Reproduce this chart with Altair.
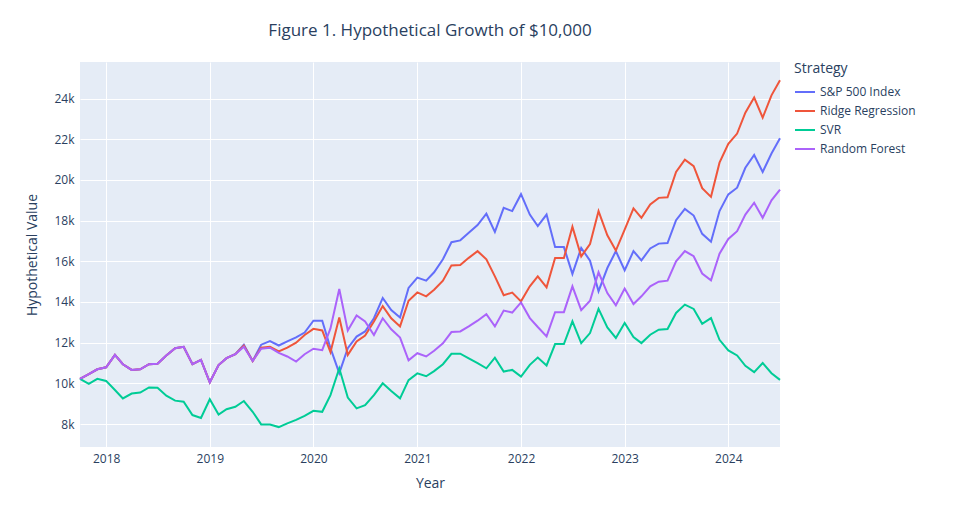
import pandas as pd
import altair as alt

months = pd.date_range("2017-10-01", "2024-07-01", freq="MS").strftime("%Y-%m-%d").tolist()

# values in thousands of dollars
sp500 = [10.22, 10.45, 10.69, 10.79, 11.4, 10.94, 10.66, 10.69, 10.94, 10.96, 11.37, 11.73, 11.8,
         10.94, 11.15, 10.05, 10.9, 11.24, 11.43, 11.9, 11.1, 11.9, 12.08, 11.86, 12.06, 12.26,
         12.5, 13.08, 13.08, 11.73, 10.5, 11.73, 12.3, 12.55, 13.2, 14.2, 13.6, 13.24, 14.69,
         15.2, 15.05, 15.46, 16.1, 16.94, 17.03, 17.4, 17.78, 18.34, 17.45, 18.63, 18.47, 19.3,
         18.3, 17.73, 18.3, 16.7, 16.7, 15.38, 16.66, 16.03, 14.53, 15.67, 16.5, 15.56, 16.5,
         16.05, 16.63, 16.87, 16.9, 18.02, 18.58, 18.25, 17.35, 16.96, 18.47, 19.29, 19.62,
         20.6, 21.23, 20.39, 21.3, 22.05]
ridge = [10.22, 10.45, 10.69, 10.79, 11.4, 10.94, 10.66, 10.69, 10.94, 10.96, 11.37, 11.73, 11.8,
         10.94, 11.15, 10.05, 10.9, 11.24, 11.43, 11.85, 11.1, 11.75, 11.8, 11.57, 11.76, 12.0,
         12.38, 12.68, 12.6, 11.53, 13.24, 11.4, 12.06, 12.35, 13.04, 13.8, 13.2, 12.8, 14.06,
         14.47, 14.28, 14.6, 15.05, 15.8, 15.82, 16.17, 16.5, 16.1, 15.26, 14.33, 14.46, 14.03,
         14.77, 15.26, 14.72, 16.16, 16.16, 17.7, 16.24, 16.85, 18.47, 17.28, 16.53, 17.56, 18.6,
         18.14, 18.8, 19.12, 19.15, 20.39, 21.0, 20.68, 19.6, 19.17, 20.85, 21.78, 22.28, 23.31,
         24.05, 23.06, 24.16, 24.9]
svr = [10.22, 9.97, 10.22, 10.12, 9.67, 9.26, 9.5, 9.55, 9.8, 9.78, 9.39, 9.15, 9.1, 8.44, 8.3,
       9.22, 8.47, 8.73, 8.85, 9.13, 8.6, 7.98, 7.98, 7.85, 8.03, 8.2, 8.4, 8.65, 8.6, 9.42,
       10.74, 9.3, 8.77, 8.93, 9.42, 10.0, 9.62, 9.26, 10.16, 10.49, 10.35, 10.6, 10.94, 11.45,
       11.46, 11.23, 10.99, 10.74, 11.26, 10.58, 10.66, 10.33, 10.91, 11.27, 10.88, 11.93, 11.93,
       13.05, 11.98, 12.47, 13.66, 12.75, 12.23, 12.97, 12.28, 11.98, 12.39, 12.64, 12.67, 13.46,
       13.87, 13.66, 12.93, 13.21, 12.14, 11.62, 11.37, 10.86, 10.55, 11.0, 10.5, 10.17]
forest = [10.22, 10.45, 10.69, 10.79, 11.4, 10.94, 10.66, 10.69, 10.94, 10.96, 11.37, 11.73, 11.8,
          10.94, 11.15, 10.05, 10.9, 11.24, 11.43, 11.8, 11.1, 11.7, 11.75, 11.5, 11.32, 11.07,
          11.43, 11.7, 11.63, 12.7, 14.64, 12.6, 13.34, 13.04, 12.38, 13.2, 12.66, 12.25, 11.13,
          11.48, 11.32, 11.6, 11.97, 12.52, 12.55, 12.8, 13.08, 13.4, 12.8, 13.58, 13.48, 13.98,
          13.21, 12.77, 12.31, 13.5, 13.5, 14.77, 13.6, 14.06, 15.46, 14.44, 13.84, 14.66, 13.9,
          14.28, 14.77, 15.0, 15.05, 16.0, 16.5, 16.25, 15.4, 15.07, 16.37, 17.1, 17.48, 18.3,
          18.88, 18.14, 19.0, 19.53]

series = ["S&P 500 Index", "Ridge Regression", "SVR", "Random Forest"]
colors = ["#636EFA", "#EF553B", "#00CC96", "#AB63FA"]

rows = []
for name, vals in zip(series, [sp500, ridge, svr, forest]):
    for m, v in zip(months, vals):
        rows.append({"Year": m, "Value": v, "Strategy": name})
df = pd.DataFrame(rows)

chart = (
    alt.Chart(df)
    .mark_line(strokeWidth=2)
    .encode(
        x=alt.X("Year:T", title="Year",
                scale=alt.Scale(domain=["2017-10-01", "2024-07-01"]),
                axis=alt.Axis(format="%Y", tickCount={"interval": "year", "step": 1},
                              labelPadding=6, titlePadding=12)),
        y=alt.Y("Value:Q", title="Hypothetical Value",
                scale=alt.Scale(domain=[6.87, 25.8], nice=False, zero=False),
                axis=alt.Axis(values=[8, 10, 12, 14, 16, 18, 20, 22, 24],
                              labelExpr="datum.value + 'k'", labelPadding=6, titlePadding=14)),
        color=alt.Color("Strategy:N", sort=series,
                        scale=alt.Scale(domain=series, range=colors),
                        legend=alt.Legend(symbolType="stroke", symbolStrokeWidth=2,
                                          symbolSize=400, labelFontSize=12, titleFontSize=14,
                                          titleFontWeight="normal", offset=10)),
    )
    .properties(
        width=700, height=385,
        padding={"left": 17, "top": 14, "right": 5, "bottom": 5},
        title=alt.Title("Figure 1. Hypothetical Growth of $10,000", fontSize=17,
                        fontWeight="normal", color="#2a3f5f", offset=22),
    )
    .configure(font="Open Sans")
    .configure_view(fill="#E5ECF6", stroke=None)
    .configure_axis(grid=True, gridColor="white", gridWidth=1, domain=False, ticks=False,
                    labelColor="#2a3f5f", titleColor="#2a3f5f", labelFontSize=12,
                    titleFontSize=14, titleFontWeight="normal")
    .configure_legend(labelColor="#2a3f5f", titleColor="#2a3f5f")
)

chart.save("out.html", embed_options={"renderer": "svg", "actions": False})
